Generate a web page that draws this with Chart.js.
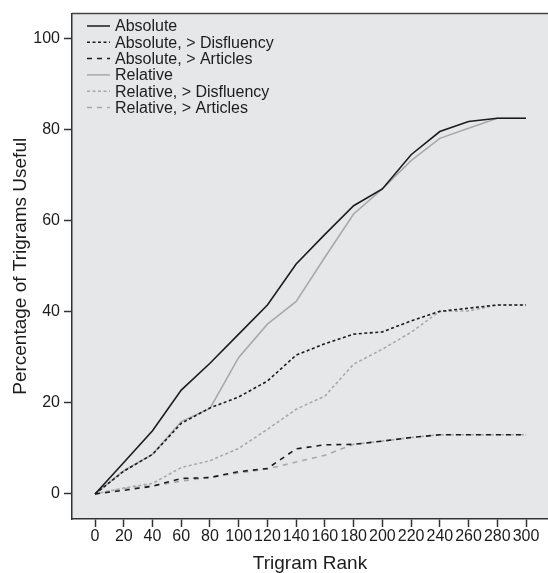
<!DOCTYPE html>
<html>
<head>
<meta charset="utf-8">
<script src="https://cdn.jsdelivr.net/npm/chart.js@4/dist/chart.umd.min.js"></script>
<style>
  html, body { margin: 0; padding: 0; background: #ffffff; }
  #wrap { width: 548px; height: 573px; }
</style>
</head>
<body>
<div id="wrap"><canvas id="c" width="548" height="573"></canvas></div>
<script>
const ranks = [0, 20, 40, 60, 80, 100, 120, 140, 160, 180, 200, 220, 240, 260, 280, 300];
const xTickValues = [0, 20, 40, 60, 80, 100, 120, 140, 160, 180, 200, 220, 240, 260, 280, 300];
const yTickValues = [0, 20, 40, 60, 80, 100];

const seriesLabels = [
  "Absolute",
  "Absolute, > Disfluency",
  "Absolute, > Articles",
  "Relative",
  "Relative, > Disfluency",
  "Relative, > Articles"
];

const absolute        = [0, 6.9, 13.9, 22.8, 28.7, 35.1, 41.5, 50.5, 57.0, 63.3, 67.0, 74.5, 79.6, 81.8, 82.5, 82.5];
const absDisfluency   = [0, 5.0, 8.7, 15.5, 18.9, 21.3, 24.8, 30.5, 33.0, 35.1, 35.6, 38.0, 40.1, 40.8, 41.5, 41.5];
const absArticles     = [0, 0.8, 1.7, 3.4, 3.6, 4.9, 5.6, 9.9, 10.8, 10.9, 11.6, 12.4, 13.0, 13.0, 13.0, 13.0];
const relative        = [0, 5.1, 8.7, 15.9, 18.8, 30.0, 37.3, 42.3, 52.0, 61.5, 67.0, 73.2, 78.1, 80.3, 82.5, 82.5];
const relDisfluency   = [0, 1.3, 2.3, 5.8, 7.3, 10.0, 14.2, 18.6, 21.5, 28.5, 31.8, 35.5, 40.1, 40.2, 41.5, 41.5];
const relArticles     = [0, 1.2, 1.8, 2.8, 3.7, 4.6, 5.5, 7.0, 8.5, 10.9, 11.6, 12.4, 13.0, 13.0, 13.0, 13.0];

const seriesValues = [absolute, absDisfluency, absArticles, relative, relDisfluency, relArticles];

const BLACK = '#1c1c1c';
const GREY = '#a9a9a9';
const styles = [
  { color: BLACK, dash: [] },
  { color: BLACK, dash: [3, 2.5] },
  { color: BLACK, dash: [5, 5] },
  { color: GREY, dash: [] },
  { color: GREY, dash: [3, 2.5] },
  { color: GREY, dash: [5, 5] }
];

const FONT = "'Liberation Sans', Arial, Helvetica, sans-serif";

const datasets = seriesValues.map((vals, i) => ({
  label: seriesLabels[i],
  data: ranks.map((r, j) => ({ x: r, y: vals[j] })),
  borderColor: styles[i].color,
  borderDash: styles[i].dash,
  borderWidth: 1.6,
  pointRadius: 0,
  tension: 0,
  fill: false
}));

const panelPlugin = {
  id: 'panel',
  beforeDraw(chart) {
    const { ctx, chartArea: a } = chart;
    ctx.save();
    ctx.fillStyle = '#e6e7e9';
    ctx.fillRect(a.left, a.top, a.right - a.left, a.bottom - a.top);
    ctx.restore();
  },
  afterDraw(chart) {
    const { ctx, chartArea: a } = chart;
    ctx.save();
    ctx.strokeStyle = '#444444';
    ctx.lineWidth = 1.5;
    ctx.beginPath();
    ctx.moveTo(a.left, a.top);
    ctx.lineTo(a.right, a.top);
    ctx.stroke();
    ctx.restore();
  }
};

const legendPlugin = {
  id: 'insideLegend',
  afterDatasetsDraw(chart) {
    const { ctx } = chart;
    ctx.save();
    chart.data.datasets.forEach((ds, i) => {
      const y = 26 + i * 16.3;
      ctx.strokeStyle = ds.borderColor;
      ctx.lineWidth = 1.5;
      ctx.setLineDash(ds.borderDash || []);
      ctx.beginPath();
      ctx.moveTo(87, y);
      ctx.lineTo(110, y);
      ctx.stroke();
      ctx.setLineDash([]);
      ctx.fillStyle = '#1c1c1c';
      ctx.font = '16px ' + FONT;
      ctx.textBaseline = 'middle';
      ctx.textAlign = 'left';
      ctx.fillText(ds.label, 115, y + 1);
    });
    ctx.restore();
  }
};

new Chart(document.getElementById('c'), {
  type: 'line',
  data: { datasets },
  plugins: [panelPlugin, legendPlugin],
  options: {
    responsive: false,
    devicePixelRatio: 1,
    animation: false,
    layout: { padding: { top: 13, right: 0, left: 0, bottom: 0 } },
    plugins: { legend: { display: false }, tooltip: { enabled: false } },
    scales: {
      x: {
        type: 'linear',
        min: -16.04,
        max: 315.3,
        afterBuildTicks(scale) { scale.ticks = xTickValues.map(v => ({ value: v })); },
        afterFit(scale) { scale.height = 54; },
        border: { display: true, color: '#333333', width: 1.5 },
        grid: { drawOnChartArea: false, drawTicks: true, tickLength: 8, tickColor: '#333333', tickWidth: 1.5 },
        ticks: { color: '#1c1c1c', font: { family: FONT, size: 16 }, padding: 0, maxRotation: 0, autoSkip: false },
        title: { display: true, text: 'Trigram Rank', color: '#1c1c1c', font: { family: FONT, size: 19, lineHeight: 1 }, padding: { top: 0, bottom: 0 } }
      },
      y: {
        type: 'linear',
        min: -5.5,
        max: 105.5,
        afterBuildTicks(scale) { scale.ticks = yTickValues.map(v => ({ value: v })); },
        afterFit(scale) { scale.width = 72; },
        border: { display: true, color: '#333333', width: 1.5 },
        grid: { drawOnChartArea: false, drawTicks: true, tickLength: 8, tickColor: '#333333', tickWidth: 1.5 },
        ticks: { color: '#1c1c1c', font: { family: FONT, size: 16 }, padding: 4 },
        title: { display: true, text: 'Percentage of Trigrams Useful', color: '#1c1c1c', font: { family: FONT, size: 19, lineHeight: 1 }, padding: { top: 11.5, bottom: 0 } }
      }
    }
  }
});
</script>
</body>
</html>
